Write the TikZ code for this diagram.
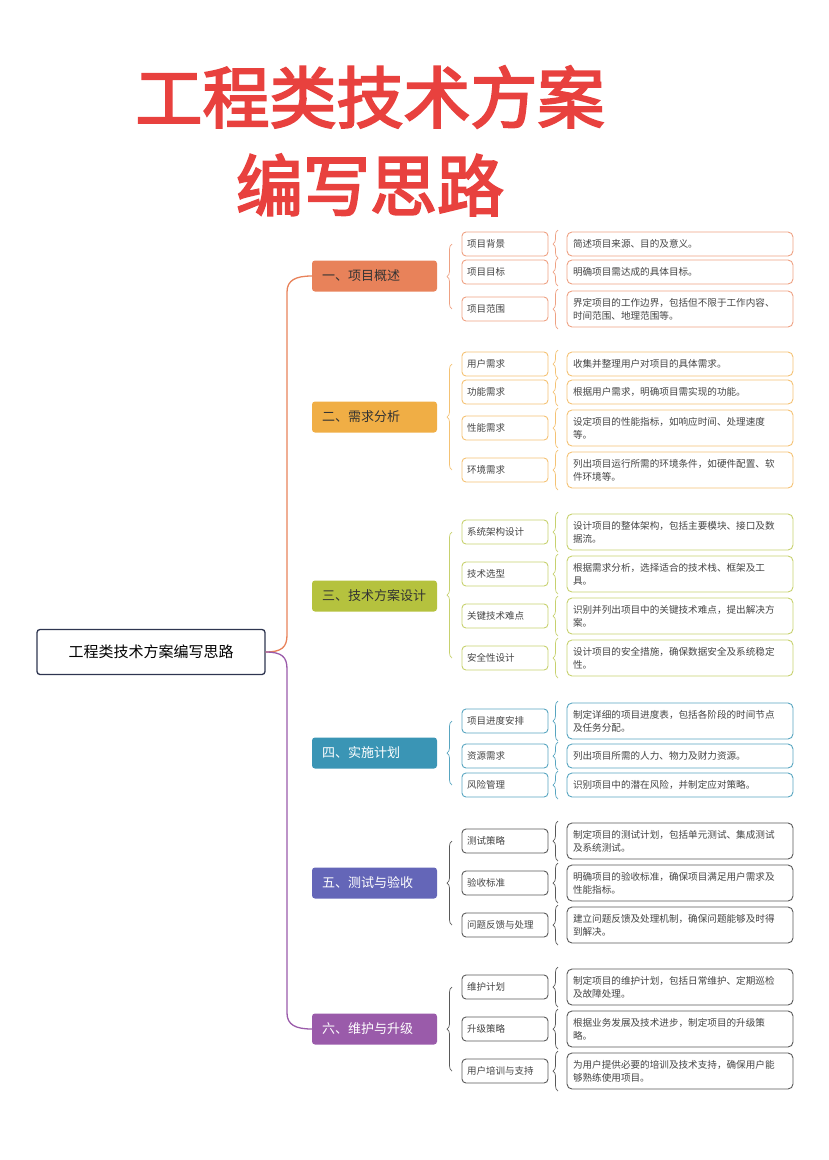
\documentclass[tikz,border=0pt]{standalone}
\usepackage{fontspec}
\setmainfont{Noto Sans CJK SC}
\newfontfamily\titlefont[FakeBold=3]{Noto Sans CJK SC}
\usetikzlibrary{decorations.pathreplacing}
\definecolor{cA}{HTML}{E8825A}
\definecolor{cB}{HTML}{F0AE45}
\definecolor{cC}{HTML}{B5C23E}
\definecolor{cD}{HTML}{3A95B5}
\definecolor{cE}{HTML}{6466B8}
\definecolor{cF}{HTML}{9A5BAA}
\definecolor{titlered}{HTML}{E8413E}
\definecolor{rootc}{HTML}{2E3550}
\definecolor{txt}{HTML}{444444}
\tikzset{
  l1/.style={rounded corners=3pt, minimum width=125pt, minimum height=31pt, inner sep=0pt, text width=105pt, align=left, font=\fontsize{13}{15}\selectfont, text=#1},
  l2/.style={draw, rounded corners=4pt, line width=0.9pt, minimum width=86pt, minimum height=24pt, inner sep=0pt, text width=76pt, align=left, font=\fontsize{9.5}{12}\selectfont, text=txt},
  l3/.style={draw, rounded corners=5pt, line width=0.9pt, minimum width=226pt, inner sep=0pt, text width=214pt, align=left, font=\fontsize{9.6}{13}\selectfont, text=txt},
  brc/.style={decorate, decoration={brace, amplitude=5pt}, line width=0.7pt},
  trunk/.style={line width=1.3pt}
}
\newcommand\rowitem[7]{%
  \node[l2, draw=#1] (#7a) at (505,#2) {#3};
  \node[l3, draw=#1, minimum height={(#5-#4)*1pt}] (#7b) at (680,{(#4+#5)/2}) {#6};
  \draw[brc, draw=#1] (558,#5+2) -- (558,#4-2);
}
\begin{document}
\begin{tikzpicture}[x=1pt,y=-1pt]
\useasboundingbox (0,0) rectangle (828,1160);
\node[font=\titlefont\fontsize{67}{72}\selectfont, text=titlered] (t1) at (370,97) {工程类技术方案};
\node[font=\titlefont\fontsize{67}{72}\selectfont, text=titlered] (t2) at (370,185) {编写思路};

\node[draw=rootc, line width=1.3pt, rounded corners=3pt, minimum width=228pt, minimum height=45pt, font=\fontsize{15}{18}\selectfont] (root) at (151,652) {工程类技术方案编写思路};

\node[l1=black!80, fill=cA] (s1) at (374.5,276) {一、项目概述};
\node[l1=black!80, fill=cB] (s2) at (374.5,417) {二、需求分析};
\node[l1=black!80, fill=cC] (s3) at (374.5,596) {三、技术方案设计};
\node[l1=white, fill=cD] (s4) at (374.5,753) {四、实施计划};
\node[l1=white, fill=cE] (s5) at (374.5,883) {五、测试与验收};
\node[l1=white, fill=cF] (s6) at (374.5,1029) {六、维护与升级};

\draw[trunk, cA] (root.east) .. controls (282,652) and (287,647) .. (287,635) -- (287,292) .. controls (287,280) and (296,276) .. (s1.west);
\draw[trunk, cF] (root.east) .. controls (282,652) and (287,657) .. (287,669) -- (287,1013) .. controls (287,1025) and (296,1029) .. (s6.west);

% section 1
\rowitem{cA!75}{244}{项目背景}{232}{256}{简述项目来源、目的及意义。}{a1}
\rowitem{cA!75}{272}{项目目标}{260}{284}{明确项目需达成的具体目标。}{a2}
\rowitem{cA!75}{309}{项目范围}{291}{327}{界定项目的工作边界，包括但不限于工作内容、\\时间范围、地理范围等。}{a3}
\draw[brc, draw=cA!75] (452,309) -- (452,244);
% section 2
\rowitem{cB!75}{364}{用户需求}{352}{376}{收集并整理用户对项目的具体需求。}{b1}
\rowitem{cB!75}{392}{功能需求}{380}{404}{根据用户需求，明确项目需实现的功能。}{b2}
\rowitem{cB!75}{428}{性能需求}{410}{446}{设定项目的性能指标，如响应时间、处理速度\\等。}{b3}
\rowitem{cB!75}{470}{环境需求}{452}{488}{列出项目运行所需的环境条件，如硬件配置、软\\件环境等。}{b4}
\draw[brc, draw=cB!75] (452,470) -- (452,364);
% section 3
\rowitem{cC!75}{532}{系统架构设计}{514}{550}{设计项目的整体架构，包括主要模块、接口及数\\据流。}{c1}
\rowitem{cC!75}{574}{技术选型}{556}{592}{根据需求分析，选择适合的技术栈、框架及工\\具。}{c2}
\rowitem{cC!75}{616}{关键技术难点}{598}{634}{识别并列出项目中的关键技术难点，提出解决方\\案。}{c3}
\rowitem{cC!75}{658}{安全性设计}{640}{676}{设计项目的安全措施，确保数据安全及系统稳定\\性。}{c4}
\draw[brc, draw=cC!75] (452,658) -- (452,532);
% section 4
\rowitem{cD!85}{721}{项目进度安排}{703}{739}{制定详细的项目进度表，包括各阶段的时间节点\\及任务分配。}{d1}
\rowitem{cD!85}{756}{资源需求}{744}{768}{列出项目所需的人力、物力及财力资源。}{d2}
\rowitem{cD!85}{785}{风险管理}{773}{797}{识别项目中的潜在风险，并制定应对策略。}{d3}
\draw[brc, draw=cD!85] (452,785) -- (452,721);
% section 5
\rowitem{black!65}{841}{测试策略}{823}{859}{制定项目的测试计划，包括单元测试、集成测试\\及系统测试。}{e1}
\rowitem{black!65}{883}{验收标准}{865}{901}{明确项目的验收标准，确保项目满足用户需求及\\性能指标。}{e2}
\rowitem{black!65}{925}{问题反馈与处理}{907}{943}{建立问题反馈及处理机制，确保问题能够及时得\\到解决。}{e3}
\draw[brc, draw=black!65] (452,925) -- (452,841);
% section 6
\rowitem{black!65}{987}{维护计划}{969}{1005}{制定项目的维护计划，包括日常维护、定期巡检\\及故障处理。}{f1}
\rowitem{black!65}{1029}{升级策略}{1011}{1047}{根据业务发展及技术进步，制定项目的升级策\\略。}{f2}
\rowitem{black!65}{1071}{用户培训与支持}{1053}{1089}{为用户提供必要的培训及技术支持，确保用户能\\够熟练使用项目。}{f3}
\draw[brc, draw=black!65] (452,1071) -- (452,987);
\end{tikzpicture}
\end{document}
